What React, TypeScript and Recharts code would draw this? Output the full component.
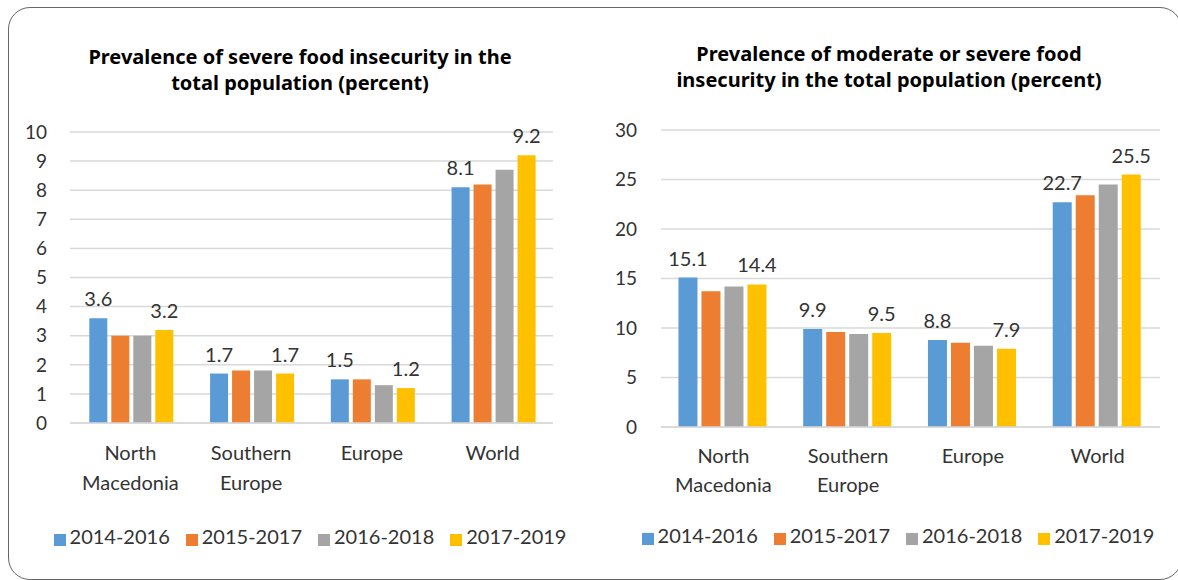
import React from 'react';
import { BarChart, Bar, XAxis, YAxis, CartesianGrid, Legend, LabelList } from 'recharts';

const FONT = 'Lato, "Noto Sans", sans-serif';
const TITLE_FONT = '"Noto Sans", "Open Sans", sans-serif';
const TEXT = '#333333';

// categories and periods
const categories = ['North\nMacedonia', 'Southern\nEurope', 'Europe', 'World'];
const periods = ['2014-2016', '2015-2017', '2016-2018', '2017-2019'];
const colors = ['#5B9BD5', '#ED7D31', '#A5A5A5', '#FFC000'];

// severe food insecurity (percent)
const severe2014 = [3.6, 1.7, 1.5, 8.1];
const severe2015 = [3.0, 1.8, 1.5, 8.2];
const severe2016 = [3.0, 1.8, 1.3, 8.7];
const severe2017 = [3.2, 1.7, 1.2, 9.2];

// moderate or severe food insecurity (percent)
const modSev2014 = [15.1, 9.9, 8.8, 22.7];
const modSev2015 = [13.7, 9.6, 8.5, 23.4];
const modSev2016 = [14.2, 9.4, 8.2, 24.5];
const modSev2017 = [14.4, 9.5, 7.9, 25.5];

const severeTicks = [0, 1, 2, 3, 4, 5, 6, 7, 8, 9, 10];
const modSevTicks = [0, 5, 10, 15, 20, 25, 30];

const buildRows = (series: number[][]) =>
  categories.map((name, i) => {
    const row: any = { name };
    periods.forEach((p, s) => {
      row[p] = series[s][i];
    });
    return row;
  });

const severeData = buildRows([severe2014, severe2015, severe2016, severe2017]);
const modSevData = buildRows([modSev2014, modSev2015, modSev2016, modSev2017]);

const makeCategoryTick = (dy1: number, dy2: number) => (props: any) => {
  const { x, y, payload } = props;
  const lines = String(payload.value).split('\n');
  return (
    <text x={x} y={y} textAnchor="middle" fill={TEXT} fontSize={20} fontFamily={FONT}>
      {lines.map((l, i) => (
        <tspan key={i} x={x} dy={i === 0 ? dy1 : dy2}>
          {l}
        </tspan>
      ))}
    </text>
  );
};

interface PanelProps {
  data: any[];
  ticks: number[];
  width: number;
  margin: { top: number; right: number; bottom: number; left: number };
  yWidth: number;
  tickMargin: number;
  categoryGap: string;
  tick: (props: any) => React.ReactElement;
  legendStyle: React.CSSProperties;
}

const Panel: React.FC<PanelProps> = ({ data, ticks, width, margin, yWidth, tickMargin, categoryGap, tick, legendStyle }) => (
  <BarChart width={width} height={580} data={data} margin={margin} barCategoryGap={categoryGap} barGap={4}>
    <CartesianGrid vertical={false} stroke="#D9D9D9" strokeWidth={1.5} />
    <XAxis
      dataKey="name"
      height={60}
      tickLine={false}
      axisLine={{ stroke: '#D9D9D9', strokeWidth: 1.5 }}
      tickSize={0}
      tick={tick}
      interval={0}
    />
    <YAxis
      width={yWidth}
      domain={[ticks[0], ticks[ticks.length - 1]]}
      ticks={ticks}
      axisLine={false}
      tickLine={false}
      tickSize={0}
      tickMargin={tickMargin}
      tick={{ fill: TEXT, fontSize: 19, fontFamily: FONT }}
    />
    <Legend
      layout="horizontal"
      verticalAlign="middle"
      align="center"
      iconType="square"
      iconSize={12}
      wrapperStyle={legendStyle}
      formatter={(v: any) => (
        <span style={{ color: TEXT, fontSize: 20, fontFamily: FONT, marginRight: 6 }}>{v}</span>
      )}
    />
    {periods.map((p, s) => (
      <Bar key={p} dataKey={p} fill={colors[s]} isAnimationActive={false}>
        {(s === 0 || s === periods.length - 1) && (
          <LabelList
            dataKey={p}
            position="top"
            offset={12}
            fill={TEXT}
            fontSize={20}
            fontFamily={FONT}
            formatter={(v: any) => Number(v).toFixed(1)}
          />
        )}
      </Bar>
    ))}
  </BarChart>
);

const titleStyle: React.CSSProperties = {
  position: 'absolute',
  fontFamily: TITLE_FONT,
  fontWeight: 700,
  fontSize: 20,
  lineHeight: '26px',
  color: '#000',
  textAlign: 'center',
};

export default function App() {
  return (
    <div style={{ position: 'absolute', left: 0, top: 0, width: 1178, height: 580, overflow: 'hidden', background: '#fff' }}>
      <div
        style={{
          position: 'absolute',
          left: 8,
          top: 7,
          width: 1174,
          height: 573,
          border: '1.5px solid #666',
          borderRadius: 22,
          boxSizing: 'border-box',
        }}
      />
      <div style={{ ...titleStyle, left: 30, top: 44, width: 540 }}>
        Prevalence of severe food insecurity in the
        <br />
        total population (percent)
      </div>
      <div style={{ ...titleStyle, left: 619, top: 41, width: 540 }}>
        Prevalence of moderate or severe food
        <br />
        insecurity in the total population (percent)
      </div>
      <div style={{ position: 'absolute', left: 0, top: 0 }}>
        <Panel
          data={severeData}
          ticks={severeTicks}
          width={590}
          margin={{ top: 132, right: 37, bottom: 97, left: 0 }}
          yWidth={70}
          tickMargin={23}
          categoryGap="16%"
          tick={makeCategoryTick(35, 30)}
          legendStyle={{ top: 524, left: 48, width: 540 }}
        />
      </div>
      <div style={{ position: 'absolute', left: 590, top: 0 }}>
        <Panel
          data={modSevData}
          ticks={modSevTicks}
          width={588}
          margin={{ top: 130, right: 18, bottom: 93, left: 0 }}
          yWidth={71}
          tickMargin={24}
          categoryGap="14%"
          tick={makeCategoryTick(34, 29)}
          legendStyle={{ top: 523, left: 49, width: 534 }}
        />
      </div>
    </div>
  );
}
